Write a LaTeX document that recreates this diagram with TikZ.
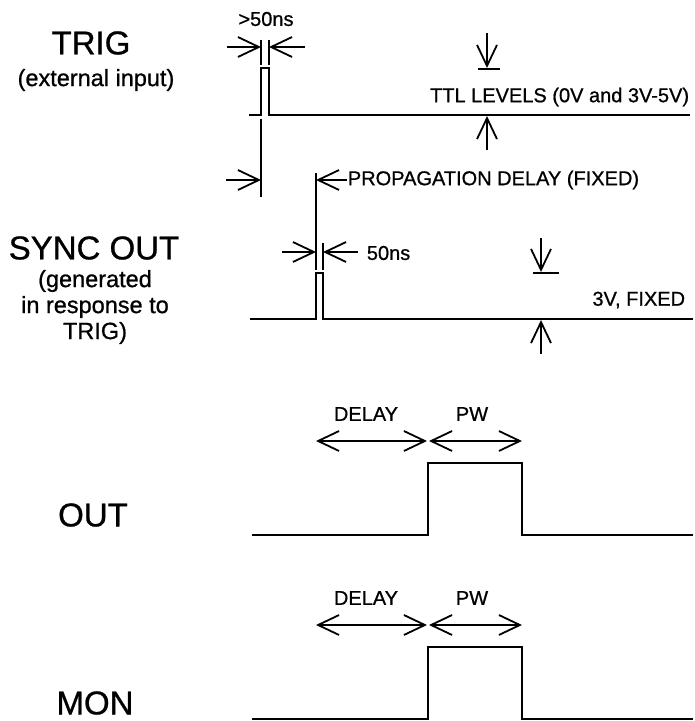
\documentclass[tikz,border=0pt]{standalone}
\usepackage{fontspec}
\setmainfont{Liberation Sans}[FakeBold=0.8]
\usetikzlibrary{arrows.meta}

\begin{document}
\begin{tikzpicture}[x=1pt, y=-1pt, line width=1.8pt,
        >={Straight Barb[length=21pt, width=20pt]},
        sig/.style={line width=2.4pt, line join=miter},
        big/.style={font=\fontsize{33}{36}\selectfont},
        sub/.style={font=\fontsize{23.5}{26}\selectfont, align=center, inner sep=0pt},
        lbl/.style={font=\fontsize{20}{24}\selectfont, inner sep=0pt}]
            \useasboundingbox (0, 0) rectangle (695, 721);
            % signal names
            \node[big] (trig) at (91, 43) {TRIG};
            \node[sub] (trigsub) at (96, 80) {(external input)};
            \node[big] (sync) at (94, 248) {SYNC OUT};
            \node[sub] (syncsub) at (95, 307) {(generated\\in response to\\TRIG)};
            \node[big] (out) at (93, 515) {OUT};
            \node[big] (mon) at (95, 703) {MON};
            % TRIG
            \draw[sig] (249, 115) -- (261, 115) -- (261, 68) -- (269, 68) -- (269, 115) -- (690, 115);
            \draw (261, 40) -- (261, 65);
            \draw (269, 40) -- (269, 65);
            \draw[->] (227, 47) -- (261, 47);
            \draw[->] (305, 47) -- (269, 47);
            \node[lbl] (wide) at (266, 19) {>50ns};
            \draw[->] (487, 33) -- (487, 68);
            \draw (478, 69) -- (500, 69);
            \node[lbl, anchor=east] (ttl) at (690, 97) {TTL LEVELS (0V and 3V-5V)};
            \draw[->] (487, 150) -- (487, 116);
            % propagation delay
            \draw (261, 119) -- (261, 197);
            \draw[->] (226, 180) -- (261, 180);
            \node[lbl, anchor=west] (prop) at (347, 180) {PROPAGATION DELAY (FIXED)};
            \draw[->] (prop.west) -- (316, 180);
            \draw (316, 173) -- (316, 270);
            % SYNC OUT
            \draw[sig] (250, 319) -- (316, 319) -- (316, 273) -- (323, 273) -- (323, 319) -- (693, 319);
            \draw (323, 243) -- (323, 270);
            \draw[->] (282, 252) -- (316, 252);
            \draw[->] (358, 252) -- (323, 252);
            \node[lbl, anchor=west] (narrow) at (366, 253) {50ns};
            \draw[->] (541, 238) -- (541, 272);
            \draw (533, 273) -- (559, 273);
            \node[lbl, anchor=east] (fixed) at (686, 300) {3V, FIXED};
            \draw[->] (541, 354) -- (541, 320);
            % OUT and MON
            \foreach \b in {535, 719} {
                \draw[sig] (252, \b) -- (428, \b) -- (428, \b-72) -- (522, \b-72) -- (522, \b) -- (693, \b);
                \draw[<->] (316, \b-94) -- (427, \b-94);
                \draw[<->] (429, \b-94) -- (522, \b-94);
                \node[lbl] (delay\b) at (366, \b-121) {DELAY};
                \node[lbl] (pw\b) at (472, \b-121) {PW};
            }
        \end{tikzpicture}
\end{document}
